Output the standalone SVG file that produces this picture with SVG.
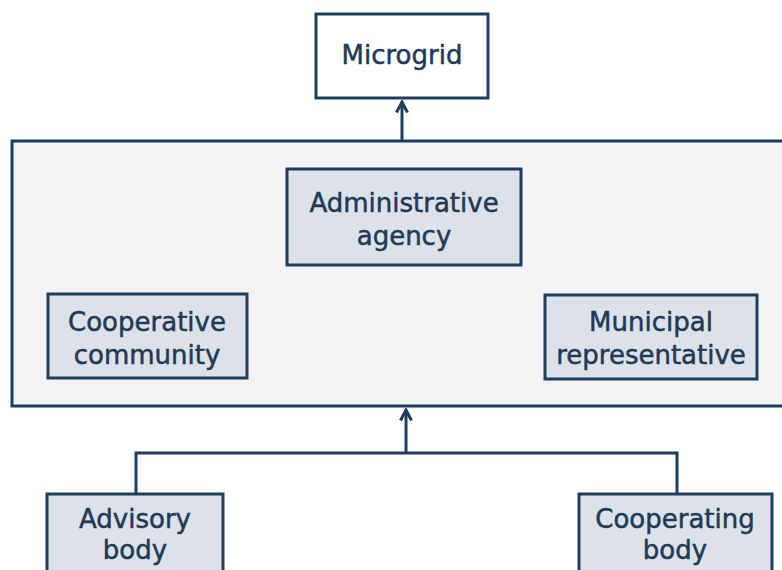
<svg xmlns="http://www.w3.org/2000/svg" width="782" height="570" viewBox="0 0 782 570">
<defs>
<style>
.box{fill:#dde2e8;stroke:#1e3e5e;stroke-width:3}
.white{fill:#ffffff;stroke:#1e3e5e;stroke-width:3}
.cont{fill:#f3f3f3;stroke:#1e3e5e;stroke-width:3}
.lbl{font-family:"DejaVu Sans",sans-serif;font-size:26px;fill:#1f3a56;stroke:#1f3a56;stroke-width:0.5;text-anchor:middle}
.conn{fill:none;stroke:#1e3e5e;stroke-width:3}
</style>
<marker id="arr" viewBox="0 0 14 14" refX="12" refY="7" markerWidth="14" markerHeight="14" markerUnits="userSpaceOnUse" orient="auto">
<path d="M1.5,1.5 L12,7 L1.5,12.5" fill="none" stroke="#1e3e5e" stroke-width="3"/>
</marker>
</defs>
<rect width="782" height="570" fill="#ffffff"/>
<g id="microgrid">
<rect class="white" x="316" y="14" width="172" height="84"/>
<text class="lbl" x="402" y="64">Microgrid</text>
</g>
<g id="group-container">
<rect class="cont" x="12" y="141" width="790" height="265"/>
</g>
<g id="administrative-agency">
<rect class="box" x="287" y="169" width="234" height="96"/>
<text class="lbl" x="404" y="212">Administrative</text>
<text class="lbl" x="404" y="245">agency</text>
</g>
<g id="cooperative-community">
<rect class="box" x="48" y="294" width="199" height="84"/>
<text class="lbl" x="147" y="331">Cooperative</text>
<text class="lbl" x="147" y="364">community</text>
</g>
<g id="municipal-representative">
<rect class="box" x="545" y="295" width="212" height="84"/>
<text class="lbl" x="651" y="331">Municipal</text>
<text class="lbl" x="651" y="364">representative</text>
</g>
<g id="advisory-body">
<rect class="box" x="47" y="494" width="176" height="100"/>
<text class="lbl" x="135" y="528">Advisory</text>
<text class="lbl" x="135" y="559">body</text>
</g>
<g id="cooperating-body">
<rect class="box" x="579" y="494" width="193" height="100"/>
<text class="lbl" x="675" y="528">Cooperating</text>
<text class="lbl" x="675" y="559">body</text>
</g>
<g id="connectors">
<line class="conn" x1="402" y1="140" x2="402" y2="102" marker-end="url(#arr)"/>
<polyline class="conn" points="136,494 136,453 677,453 677,494"/>
<line class="conn" x1="406" y1="453" x2="406" y2="410" marker-end="url(#arr)"/>
</g>
</svg>
